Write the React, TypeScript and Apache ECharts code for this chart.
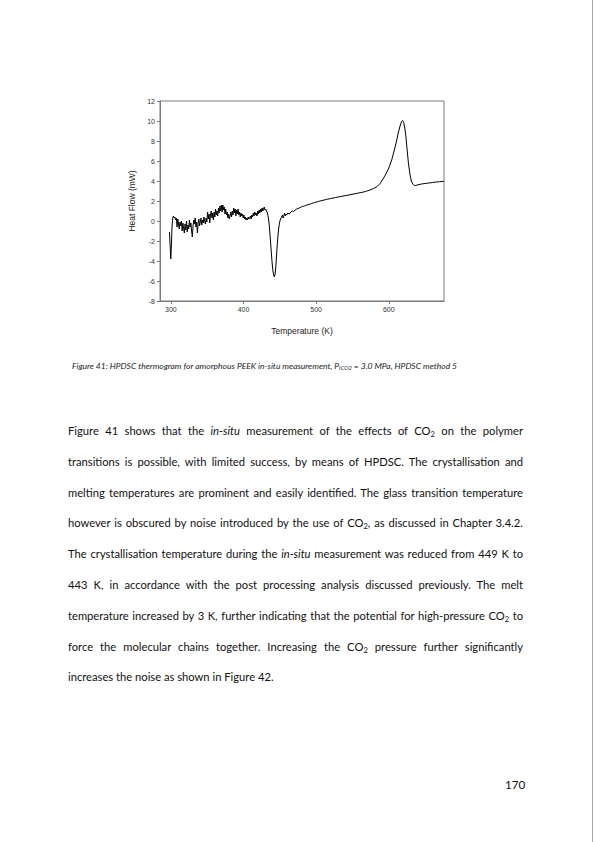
import React, { useEffect, useRef } from 'react';
import * as echarts from 'echarts';

// HPDSC thermogram, amorphous PEEK, in-situ CO2
const temperatureK = [
    298.0, 299.0, 299.8, 300.6, 301.5, 302.5, 303.5, 304.5, 305.5, 306.5,
    307.5, 308.5, 309.5, 310.5, 311.5, 312.5, 313.5, 314.5, 315.5, 316.5,
    317.5, 318.5, 319.5, 320.5, 321.5, 322.5, 323.5, 324.5, 325.5, 326.5,
    327.5, 328.5, 329.5, 330.5, 331.5, 332.5, 333.5, 334.5, 335.5, 336.5,
    337.5, 338.5, 339.5, 340.5, 341.5, 342.5, 343.5, 344.5, 345.5, 346.5,
    347.5, 348.5, 349.5, 350.5, 351.5, 352.5, 353.5, 354.5, 355.5, 356.5,
    357.5, 358.5, 359.5, 360.5, 361.5, 362.5, 363.5, 364.5, 365.5, 366.5,
    367.5, 368.5, 369.5, 370.5, 371.5, 372.5, 373.5, 374.5, 375.5, 376.5,
    377.5, 378.5, 379.5, 380.5, 381.5, 382.5, 383.5, 384.5, 385.5, 386.5,
    387.5, 388.5, 389.5, 390.5, 391.5, 392.5, 393.5, 394.5, 395.5, 396.5,
    397.5, 398.5, 399.5, 400.5, 401.5, 402.5, 403.5, 404.5, 405.5, 406.5,
    407.5, 408.5, 409.5, 410.5, 411.5, 412.5, 413.5, 414.5, 415.5, 416.5,
    417.5, 418.5, 419.5, 420.5, 421.5, 422.5, 423.5, 424.5, 425.5, 426.5,
    427.5, 428.5, 429.5, 430.5, 431.5, 432.5, 433.5, 434.5, 435.5, 436.5,
    437.5, 438.5, 439.5, 440.5, 441.5, 442.5, 443.5, 444.5, 445.5, 446.5,
    447.5, 448.5, 449.5, 450.5, 451.5, 452.5, 453.5, 454.5, 455.5, 456.5,
    457.5, 458.5, 459.5, 461, 463, 465, 467, 469, 471, 473,
    475, 478, 481, 484, 487, 490, 494, 498, 503, 508,
    514, 520, 527, 534, 541, 548, 555, 562, 568, 574,
    579, 584, 588, 592, 596, 600, 604, 608, 611, 613,
    615.5, 617.5, 619, 620.5, 622, 623.5, 625, 627, 629, 631,
    633, 635, 637, 640, 645, 650, 655, 660, 665, 670,
    676,
];

const heatFlowMW = [
    -1.1, -2.5, -3.8, -2.6, -0.6, 0.3, 0.5, 0.3, 0.4, 0.1,
    0.3, -0.6, 0.2, -0.3, -0.8, -0.1, -0.5, 0.0, -1.0, -0.2,
    -0.7, -1.2, -0.3, -0.9, 0.0, -1.1, -0.4, -0.8, 0.1, -0.6,
    -0.2, -1.0, -1.6, -0.5, 0.1, -0.3, 0.3, -0.6, -0.1, -1.2,
    -0.2, 0.2, -0.5, -0.1, 0.3, -0.4, 0.1, -0.2, 0.4, 0.0,
    -0.3, 0.3, -0.1, 0.9, 0.2, 0.7, -0.2, 0.6, 1.0, 0.3,
    0.8, 0.1, 0.9, 0.4, 1.2, 0.6, 1.0, 0.5, 1.3, 0.8,
    1.5, 1.0, 1.6, 0.9, 1.6, 1.1, 1.4, 0.7, 1.2, 0.6,
    0.9, 0.3, 0.7, 0.2, 0.5, 0.9, 0.4, 1.0, 0.6, 1.3,
    0.8, 1.2, 0.5, 1.1, 0.7, 1.2, 0.6, 0.9, 0.4, 0.8,
    0.5, 0.7, 0.3, 0.6, 0.2, 0.4, 0.1, 0.3, 0.1, 0.4,
    0.2, 0.3, 0.5, 0.2, 0.6, 0.4, 0.8, 0.5, 0.9, 0.6,
    0.8, 0.5, 1.0, 0.7, 1.1, 0.8, 1.2, 0.9, 1.3, 1.0,
    1.2, 1.4, 1.1, 1.2, 1.0, 0.9, 0.6, 0.2, -0.5, -1.4,
    -2.4, -3.4, -4.3, -5.0, -5.4, -5.6, -5.3, -4.5, -3.4, -2.3,
    -1.4, -0.7, -0.2, 0.1, 0.3, 0.4, 0.6, 0.3, 0.5, 0.8,
    0.5, 0.7, 0.6, 0.8, 0.7, 0.9, 1.0, 0.95, 1.1, 1.2,
    1.25, 1.35, 1.45, 1.5, 1.6, 1.65, 1.75, 1.85, 1.95, 2.05,
    2.15, 2.25, 2.35, 2.45, 2.55, 2.65, 2.75, 2.85, 2.95, 3.1,
    3.25, 3.45, 3.75, 4.2, 4.7, 5.3, 6.1, 7.2, 8.1, 8.8,
    9.5, 9.95, 10.05, 9.85, 9.3, 8.5, 7.3, 5.8, 4.7, 4.0,
    3.7, 3.55, 3.55, 3.62, 3.7, 3.75, 3.8, 3.85, 3.9, 3.93,
    3.97,
];

const xTickValues = [300, 400, 500, 600];
const xMin = 285;
const xMax = 676;
const yMin = -8;
const yMax = 12;
const yStep = 2;

const axisFont = 'Liberation Sans, Arial, sans-serif';
const bodyFont = 'Lato, "Open Sans", sans-serif';

const Sub: React.FC<{ children: React.ReactNode }> = ({ children }) => (
    <sub style={{ fontSize: '0.68em', verticalAlign: '-0.25em', lineHeight: 0 }}>{children}</sub>
);

const ThermogramChart: React.FC = () => {
    const chartRef = useRef<HTMLDivElement>(null);

    useEffect(() => {
        if (!chartRef.current) return;
        const chart = echarts.init(chartRef.current, null, { renderer: 'svg' });

        const axisLine = { show: true, onZero: false, lineStyle: { color: '#7a7a7a', width: 1 } };

        chart.setOption({
            animation: false,
            backgroundColor: 'transparent',
            grid: {
                left: 160,
                right: 151,
                top: 101,
                bottom: 49,
                show: true,
                borderColor: '#7a7a7a',
                borderWidth: 1,
            },
            xAxis: {
                type: 'value',
                min: xMin,
                max: xMax,
                name: 'Temperature (K)',
                nameLocation: 'middle',
                nameGap: 25,
                nameTextStyle: { fontFamily: axisFont, fontSize: 8.5, color: '#222' },
                axisLine,
                axisTick: { show: true, length: 3, customValues: xTickValues, lineStyle: { color: '#7a7a7a' } },
                axisLabel: {
                    customValues: xTickValues,
                    fontFamily: axisFont,
                    fontSize: 7,
                    color: '#333',
                    margin: 5,
                },
                splitLine: { show: false },
            },
            yAxis: {
                type: 'value',
                min: yMin,
                max: yMax,
                interval: yStep,
                name: 'Heat Flow (mW)',
                nameLocation: 'middle',
                nameGap: 24,
                nameTextStyle: { fontFamily: axisFont, fontSize: 8.5, color: '#222' },
                axisLine,
                axisTick: { show: true, length: 3, lineStyle: { color: '#7a7a7a' } },
                axisLabel: {
                    fontFamily: axisFont,
                    fontSize: 7,
                    color: '#333',
                    margin: 5,
                },
                splitLine: { show: false },
            },
            series: [
                {
                    type: 'line',
                    data: temperatureK.map((t, i) => [t, heatFlowMW[i]]),
                    showSymbol: false,
                    smooth: false,
                    lineStyle: { color: '#000', width: 1 },
                },
            ],
        });

        return () => {
            chart.dispose();
        };
    }, []);

    return (
        <div
            ref={chartRef}
            style={{ position: 'absolute', left: 0, top: 0, width: 595, height: 350 }}
        />
    );
};

const lineStyle = (top: number, justify: boolean): React.CSSProperties => ({
    position: 'absolute',
    left: 68,
    width: 455,
    top,
    height: 16,
    lineHeight: '16px',
    fontFamily: bodyFont,
    fontSize: 11.2,
    color: '#111',
    whiteSpace: 'nowrap',
    textAlign: 'justify',
    textAlignLast: justify ? 'justify' : 'left',
});

const bodyLines: React.ReactNode[] = [
    <>Figure 41 shows that the <i>in-situ</i> measurement of the effects of CO<Sub>2</Sub> on the polymer</>,
    <>transitions is possible, with limited success, by means of HPDSC. The crystallisation and</>,
    <>melting temperatures are prominent and easily identified. The glass transition temperature</>,
    <>however is obscured by noise introduced by the use of CO<Sub>2</Sub>, as discussed in Chapter 3.4.2.</>,
    <>The crystallisation temperature during the <i>in-situ</i> measurement was reduced from 449 K to</>,
    <>443 K, in accordance with the post processing analysis discussed previously. The melt</>,
    <>temperature increased by 3 K, further indicating that the potential for high-pressure CO<Sub>2</Sub> to</>,
    <>force the molecular chains together. Increasing the CO<Sub>2</Sub> pressure further significantly</>,
    <>increases the noise as shown in Figure 42.</>,
];

export default function App() {
    return (
        <div
            style={{
                position: 'absolute',
                left: 0,
                top: 0,
                width: 595,
                height: 842,
                background: '#fff',
                overflow: 'hidden',
            }}
        >
            <ThermogramChart />

            <div
                style={{
                    position: 'absolute',
                    left: 72,
                    top: 360,
                    fontFamily: bodyFont,
                    fontStyle: 'italic',
                    fontSize: 8.5,
                    lineHeight: '12px',
                    color: '#222',
                    whiteSpace: 'nowrap',
                }}
            >
                Figure 41: HPDSC thermogram for amorphous PEEK in-situ measurement, P<Sub>ICO2</Sub> = 3.0 MPa, HPDSC method 5
            </div>

            {bodyLines.map((content, i) => (
                <div key={i} style={lineStyle(423 + i * 30.8, i < bodyLines.length - 1)}>
                    {content}
                </div>
            ))}

            <div
                style={{
                    position: 'absolute',
                    left: 505,
                    top: 777,
                    fontFamily: bodyFont,
                    fontSize: 11.6,
                    lineHeight: '16px',
                    color: '#111',
                }}
            >
                170
            </div>

            <div
                style={{
                    position: 'absolute',
                    left: 592,
                    top: 0,
                    width: 1,
                    height: 842,
                    background: '#a8a8a8',
                }}
            />
        </div>
    );
}
